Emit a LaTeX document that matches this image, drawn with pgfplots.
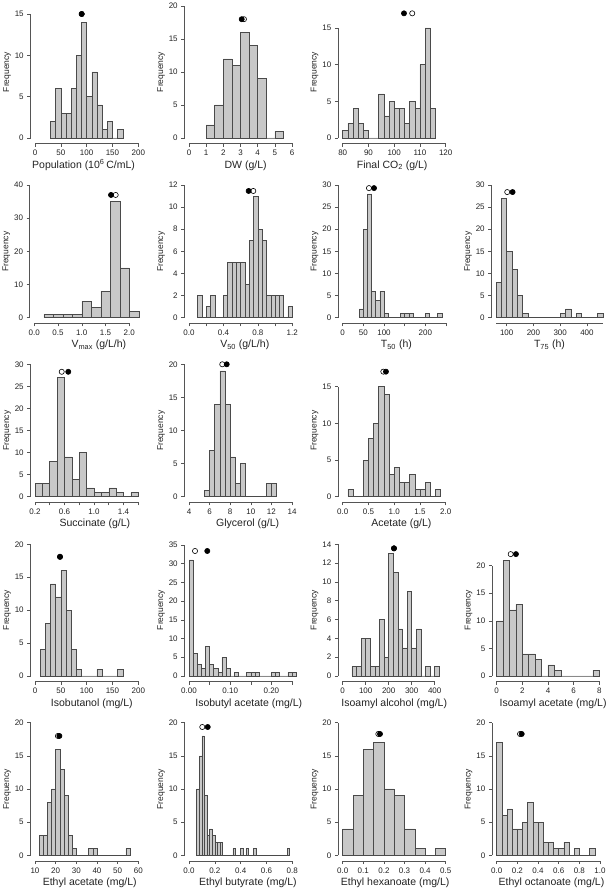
\documentclass[border=0pt]{standalone}
\usepackage{pgfplots}
\pgfplotsset{compat=1.18}
\usepackage{fontspec}
\setmainfont{Liberation Sans}
\definecolor{barfill}{HTML}{C8C8C8}
\definecolor{bardraw}{HTML}{4A4A4A}
\definecolor{axgray}{HTML}{555555}
\definecolor{txt}{HTML}{222222}
\pgfplotsset{
  hp/.style={
    scale only axis, anchor=south west,
    axis x line*=bottom, axis y line*=left,
    axis x line shift=5.5pt, axis y line shift=4.5pt,
    hide obscured x ticks=false, hide obscured y ticks=false,
    enlargelimits=false, clip=false, ymin=0,
    tick align=outside, major tick length=3.3pt, minor tick num=0,
    axis line style={draw=axgray, line width=0.6pt},
    every tick/.style={draw=axgray, line width=0.6pt},
    tick label style={font=\fontsize{8}{9}\selectfont, text=txt},
    /pgf/number format/assume math mode=true,
    ylabel={Frequency},
    ylabel style={at={([xshift=-28pt,yshift=66pt]axis description cs:0,0)}, anchor=center, font=\fontsize{8.5}{10}\selectfont, text=txt},
    xlabel style={anchor=center, font=\fontsize{10.5}{12}\selectfont, text=txt},
  },
  xl/.style={xlabel style={at={([yshift=-27.5pt]axis description cs:#1,0)}}},
  hb/.style={ybar interval, fill=barfill, draw=bardraw, line width=0.55pt},
  od/.style={only marks, mark=*, mark size=2.6pt, mark options={fill=white, draw=black, line width=0.6pt}},
  fd/.style={only marks, mark=*, mark size=2.6pt, mark options={fill=black, draw=black, line width=0.6pt}},
}
\begin{document}
\begin{tikzpicture}
\path[use as bounding box] (0pt,0pt) rectangle (614pt,892pt);
% ---------------- Row 1
\begin{axis}[hp, at={(35pt,754pt)}, width=103.3pt, height=124pt, xmin=0, xmax=200, ymax=15,
  xtick={0,50,100,150,200}, xticklabels={0,50,100,150,200}, ytick={0,5,10,15},
  xlabel={Population (10\textsuperscript{6}\,C/mL)}, xl=0.47]
\addplot[hb] coordinates {(30,2)(40,6)(50,3)(60,3)(70,6)(80,10)(90,14)(100,5)(110,8)(120,4)(130,1)(140,2)(150,0)(160,1)(170,0)};
\addplot[od] coordinates {(90.4,15)};
\addplot[fd] coordinates {(90.4,15)};
\end{axis}
\begin{axis}[hp, at={(189pt,754pt)}, width=103pt, height=132pt, xmin=0, xmax=6, ymax=20,
  xtick={0,1,2,3,4,5,6}, xticklabels={0,1,2,3,4,5,6}, ytick={0,5,10,15,20},
  xlabel={DW (g/L)}, xl=0.55]
\addplot[hb] coordinates {(1,2)(1.5,5)(2,12)(2.5,11)(3,16)(3.5,14)(4,9)(4.5,0)(5,1)(5.5,0)};
\addplot[od] coordinates {(3.2,18)};
\addplot[fd] coordinates {(3.07,18)};
\end{axis}
\begin{axis}[hp, at={(342.7pt,754pt)}, width=103pt, height=110pt, xmin=80, xmax=120, ymax=15,
  xtick={80,90,100,110,120}, xticklabels={80,90,100,110,120}, ytick={0,5,10,15},
  xlabel={Final CO\textsubscript{2} (g/L)}, xl=0.48]
\addplot[hb] coordinates {(80,1)(82,2)(84,4)(86,2)(88,1)(90,0)(92,0)(94,6)(96,3)(98,5)(100,4)(102,4)(104,2)(106,5)(108,4)(110,10)(112,15)(114,4)(116,0)};
\addplot[od] coordinates {(107.0,17)};
\addplot[fd] coordinates {(103.8,17)};
\end{axis}
% ---------------- Row 2
\begin{axis}[hp, at={(34.3pt,574.3pt)}, width=95pt, height=132.7pt, xmin=0, xmax=2, ymax=40,
  xtick={0,0.5,1,1.5,2}, xticklabels={0.0,0.5,1.0,1.5,2.0}, ytick={0,10,20,30,40},
  xlabel={V\textsubscript{max} (g/L/h)}, xl=0.68]
\addplot[hb] coordinates {(0.2,1)(0.4,1)(0.6,1)(0.8,1)(1.0,5)(1.2,3)(1.4,8)(1.6,35)(1.8,15)(2.0,2)(2.2,0)};
\addplot[od] coordinates {(1.713,37)};
\addplot[fd] coordinates {(1.615,37)};
\end{axis}
\begin{axis}[hp, at={(189pt,574.3pt)}, width=103.3pt, height=132.7pt, xmin=0, xmax=1.2, ymax=12,
  xtick={0,0.2,0.4,0.6,0.8,1.0,1.2}, xticklabels={0.0,,0.4,,0.8,,1.2}, ytick={0,2,4,6,8,10,12},
  xlabel={V\textsubscript{50} (g/L/h)}, xl=0.54]
\addplot[hb] coordinates {(0.10,2)(0.15,0)(0.20,1)(0.25,2)(0.30,0)(0.35,0)(0.40,2)(0.45,5)(0.50,5)(0.55,5)(0.60,5)(0.65,3)(0.70,7)(0.75,11)(0.80,8)(0.85,7)(0.90,2)(0.95,2)(1.00,2)(1.05,2)(1.10,0)(1.15,1)(1.20,0)};
\addplot[od] coordinates {(0.747,11.46)};
\addplot[fd] coordinates {(0.693,11.46)};
\end{axis}
\begin{axis}[hp, at={(342.7pt,574.3pt)}, width=103.3pt, height=132.7pt, xmin=0, xmax=250, ymax=30,
  xtick={0,50,100,150,200,250}, xticklabels={0,50,100,,200,}, ytick={0,5,10,15,20,25,30},
  xlabel={T\textsubscript{50} (h)}, xl=0.52]
\addplot[hb] coordinates {(40,2)(50,20)(60,28)(70,6)(80,4)(90,6)(100,1)(110,0)(120,0)(130,0)(140,1)(150,1)(160,1)(170,0)(180,0)(190,0)(200,1)(210,0)(220,0)(230,1)(240,0)};
\addplot[od] coordinates {(63.6,29.3)};
\addplot[fd] coordinates {(75.8,29.3)};
\end{axis}
\begin{axis}[hp, at={(496pt,574.3pt)}, width=107pt, height=132.7pt, xmin=60, xmax=460, ymax=30,
  xtick={100,200,300,400}, xticklabels={100,200,300,400}, ytick={0,5,10,15,20,25,30},
  xlabel={T\textsubscript{75} (h)}, xl=0.50]
\addplot[hb] coordinates {(60,8)(80,27)(100,15)(120,11)(140,5)(160,1)(180,0)(200,0)(220,0)(240,0)(260,0)(280,0)(300,1)(320,2)(340,0)(360,1)(380,0)(400,0)(420,0)(440,1)(460,0)};
\addplot[od] coordinates {(102,28.4)};
\addplot[fd] coordinates {(122,28.4)};
\end{axis}
% ---------------- Row 3
\begin{axis}[hp, at={(35pt,395.3pt)}, width=103.3pt, height=132.4pt, xmin=0.2, xmax=1.6, ymax=30,
  xtick={0.2,0.4,0.6,0.8,1.0,1.2,1.4,1.6}, xticklabels={0.2,,0.6,,1.0,,1.4,}, ytick={0,5,10,15,20,25,30},
  xlabel={Succinate (g/L)}, xl=0.58]
\addplot[hb] coordinates {(0.2,3)(0.3,3)(0.4,8)(0.5,27)(0.6,9)(0.7,4)(0.8,10)(0.9,2)(1.0,1)(1.1,1)(1.2,2)(1.3,1)(1.4,0)(1.5,1)(1.6,0)};
\addplot[od] coordinates {(0.562,28.3)};
\addplot[fd] coordinates {(0.651,28.3)};
\end{axis}
\begin{axis}[hp, at={(189pt,395.3pt)}, width=103pt, height=132.4pt, xmin=4, xmax=14, ymax=20,
  xtick={4,6,8,10,12,14}, xticklabels={4,6,8,10,12,14}, ytick={0,5,10,15,20},
  xlabel={Glycerol (g/L)}, xl=0.57]
\addplot[hb] coordinates {(5.5,1)(6,7)(6.5,14)(7,19)(7.5,14)(8,6)(8.5,2)(9,5)(9.5,0)(10,0)(10.5,0)(11,0)(11.5,2)(12,2)(12.5,0)};
\addplot[od] coordinates {(7.23,20)};
\addplot[fd] coordinates {(7.66,20)};
\end{axis}
\begin{axis}[hp, at={(342.7pt,395.3pt)}, width=103pt, height=110pt, xmin=0, xmax=2, ymax=15,
  xtick={0,0.5,1,1.5,2}, xticklabels={0.0,0.5,1.0,1.5,2.0}, ytick={0,5,10,15},
  xlabel={Acetate (g/L)}, xl=0.57]
\addplot[hb] coordinates {(0.1,1)(0.2,0)(0.3,0)(0.4,5)(0.5,8)(0.6,10)(0.7,15)(0.8,14)(0.9,3)(1.0,4)(1.1,2)(1.2,2)(1.3,3)(1.4,1)(1.5,1)(1.6,2)(1.7,0)(1.8,1)(1.9,0)};
\addplot[od] coordinates {(0.789,17.05)};
\addplot[fd] coordinates {(0.84,17.05)};
\end{axis}
% ---------------- Row 4
\begin{axis}[hp, at={(35pt,216pt)}, width=103.3pt, height=131.7pt, xmin=0, xmax=200, ymax=20,
  xtick={0,50,100,150,200}, xticklabels={0,50,100,150,200}, ytick={0,5,10,15,20},
  xlabel={Isobutanol (mg/L)}, xl=0.55]
\addplot[hb] coordinates {(10,4)(20,8)(30,14)(40,12)(50,16)(60,10)(70,4)(80,1)(90,0)(100,0)(110,0)(120,1)(130,0)(140,0)(150,0)(160,1)(170,0)};
\addplot[od] coordinates {(48.4,18.1)};
\addplot[fd] coordinates {(48.4,18.1)};
\end{axis}
\begin{axis}[hp, at={(189pt,216pt)}, width=103pt, height=131pt, xmin=0, xmax=0.25, ymax=35,
  xtick={0,0.05,0.10,0.15,0.20,0.25}, xticklabels={0.00,,0.10,,0.20,}, ytick={0,5,10,15,20,25,30,35},
  xlabel={Isobutyl acetate (mg/L)}, xl=0.58]
\addplot[hb] coordinates {(0,31)(0.01,6)(0.02,3)(0.03,2)(0.04,8)(0.05,3)(0.06,2)(0.07,1)(0.08,5)(0.09,2)(0.10,0)(0.11,1)(0.12,0)(0.13,0)(0.14,1)(0.15,1)(0.16,1)(0.17,0)(0.18,0)(0.19,0)(0.20,1)(0.21,1)(0.22,0)(0.23,0)(0.24,1)(0.25,1)(0.26,0)};
\addplot[od] coordinates {(0.0146,33.4)};
\addplot[fd] coordinates {(0.0444,33.4)};
\end{axis}
\begin{axis}[hp, at={(342.7pt,216pt)}, width=92pt, height=131.7pt, xmin=0, xmax=400, ymax=14,
  xtick={0,100,200,300,400}, xticklabels={0,100,200,300,400}, ytick={0,2,4,6,8,10,12,14},
  xlabel={Isoamyl alcohol (mg/L)}, xl=0.56]
\addplot[hb] coordinates {(40,1)(60,1)(80,4)(100,4)(120,1)(140,1)(160,6)(180,2)(200,13)(220,11)(240,5)(260,3)(280,9)(300,3)(320,5)(340,0)(360,1)(380,0)(400,1)(420,0)};
\addplot[od] coordinates {(223,13.57)};
\addplot[fd] coordinates {(223,13.57)};
\end{axis}
\begin{axis}[hp, at={(496.7pt,216pt)}, width=102.6pt, height=110.3pt, xmin=0, xmax=8, ymax=20,
  xtick={0,2,4,6,8}, xticklabels={0,2,4,6,8}, ytick={0,5,10,15,20},
  xlabel={Isoamyl acetate (mg/L)}, xl=0.55]
\addplot[hb] coordinates {(0,10)(0.5,21)(1,12)(1.5,13)(2,4)(2.5,4)(3,3)(3.5,0)(4,2)(4.5,1)(5,0)(5.5,0)(6,0)(6.5,0)(7,0)(7.5,1)(8,0)};
\addplot[od] coordinates {(1.09,22.1)};
\addplot[fd] coordinates {(1.5,22.1)};
\end{axis}
% ---------------- Row 5
\begin{axis}[hp, at={(35pt,36.7pt)}, width=103.3pt, height=132.6pt, xmin=10, xmax=60, ymax=20,
  xtick={10,20,30,40,50,60}, xticklabels={10,20,30,40,50,60}, ytick={0,5,10,15,20},
  xlabel={Ethyl acetate (mg/L)}, xl=0.53]
\addplot[hb] coordinates {(12,3)(14,3)(16,8)(18,10)(20,16)(22,13)(24,9)(26,3)(28,1)(30,0)(32,0)(34,0)(36,1)(38,1)(40,0)(42,0)(44,0)(46,0)(48,0)(50,0)(52,0)(54,1)(56,0)};
\addplot[od] coordinates {(21.1,18)};
\addplot[fd] coordinates {(21.8,18)};
\end{axis}
\begin{axis}[hp, at={(189pt,36.7pt)}, width=103.3pt, height=132.6pt, xmin=0, xmax=0.8, ymax=20,
  xtick={0,0.2,0.4,0.6,0.8}, xticklabels={0.0,0.2,0.4,0.6,0.8}, ytick={0,5,10,15,20},
  xlabel={Ethyl butyrate (mg/L)}, xl=0.57]
\addplot[hb] coordinates {(0.06,10)(0.08,15)(0.10,18)(0.12,9)(0.14,3)(0.16,4)(0.18,3)(0.20,2)(0.22,2)(0.24,2)(0.26,0)(0.28,0)(0.30,0)(0.32,0)(0.34,1)(0.36,0)(0.38,0)(0.40,1)(0.42,0)(0.44,1)(0.46,0)(0.48,0)(0.50,1)(0.52,0)(0.54,0)(0.56,0)(0.58,0)(0.60,0)(0.62,0)(0.64,0)(0.66,0)(0.68,0)(0.70,0)(0.72,0)(0.74,0)(0.76,1)(0.78,0)};
\addplot[od] coordinates {(0.103,19.35)};
\addplot[fd] coordinates {(0.145,19.35)};
\end{axis}
\begin{axis}[hp, at={(342.7pt,36.7pt)}, width=103pt, height=132.6pt, xmin=0, xmax=0.5, ymax=20,
  xtick={0,0.1,0.2,0.3,0.4,0.5}, xticklabels={0.0,0.1,0.2,0.3,0.4,0.5}, ytick={0,5,10,15,20},
  xlabel={Ethyl hexanoate (mg/L)}, xl=0.51]
\addplot[hb] coordinates {(0,4)(0.05,9)(0.1,16)(0.15,17)(0.2,10)(0.25,9)(0.3,4)(0.35,1)(0.4,0)(0.45,1)(0.5,0)};
\addplot[od] coordinates {(0.173,18.3)};
\addplot[fd] coordinates {(0.181,18.3)};
\end{axis}
\begin{axis}[hp, at={(496.7pt,36.7pt)}, width=103.3pt, height=132.6pt, xmin=0, xmax=1, ymax=20,
  xtick={0,0.2,0.4,0.6,0.8,1.0}, xticklabels={0.0,0.2,0.4,0.6,0.8,1.0}, ytick={0,5,10,15,20},
  xlabel={Ethyl octanoate (mg/L)}, xl=0.53]
\addplot[hb] coordinates {(0,17)(0.05,6)(0.1,7)(0.15,4)(0.2,4)(0.25,5)(0.3,8)(0.35,5)(0.4,5)(0.45,2)(0.5,2)(0.55,1)(0.6,1)(0.65,2)(0.7,0)(0.75,1)(0.8,0)(0.85,0)(0.9,1)(0.95,0)};
\addplot[od] coordinates {(0.226,18.3)};
\addplot[fd] coordinates {(0.242,18.3)};
\end{axis}
\end{tikzpicture}
\end{document}
